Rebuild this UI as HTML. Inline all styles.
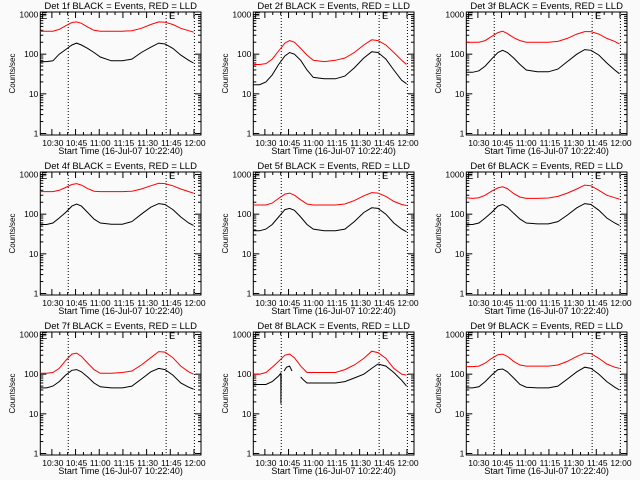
<!DOCTYPE html>
<html><head><meta charset="utf-8">
<style>
html,body{margin:0;padding:0;background:#fafafa;}
svg{display:block;font-family:"Liberation Sans",sans-serif;}
</style></head>
<body>
<svg id="fig" width="640" height="480" viewBox="0 0 640 480" xmlns="http://www.w3.org/2000/svg">
<rect x="0" y="0" width="640" height="480" fill="#fafafa"/>
</svg>
<script>
// minutes after 10:22:40
const sampleTimes = [0,4,8,12,16,20,23,26,30,34,38,45,52,58,64,70,75,79,84,89,94,97];
const tickLabels = ["10:30","10:45","11:00","11:15","11:30","11:45","12:00"];
const tickMinutes = [7.33,22.33,37.33,52.33,67.33,82.33,97.33];
const dottedMinutes = [17.7,79.7,97.6];
const yTickValues = [1,10,100,1000];
const yTickLabels = ["1","10","100","1000"];
const detectorNames = ["1f","2f","3f","4f","5f","6f","7f","8f","9f"];
const red1=[380,380,380,420,520,630,650,600,480,400,380,380,380,390,450,560,650,640,560,450,390,360];
const blk1=[65,65,68,100,130,170,190,170,140,110,85,68,68,75,110,150,190,180,140,95,70,60];
const red2=[55,55,58,75,120,190,220,200,140,95,70,65,70,80,110,170,230,220,170,110,70,55];
const blk2=[17,17,20,30,55,90,110,100,70,40,26,24,24,28,45,80,115,110,75,40,22,18];
const red3=[200,200,200,220,280,350,380,330,260,220,200,200,200,210,250,320,370,370,320,250,210,180];
const blk3=[35,35,38,50,75,110,125,110,80,55,40,36,36,42,65,100,130,125,95,60,40,32];
const red4=[370,370,370,400,470,560,590,540,440,380,370,370,370,380,430,520,600,590,520,430,370,340];
const blk4=[55,55,60,80,110,160,180,160,110,75,60,56,56,65,100,150,185,175,130,85,60,52];
const red5=[170,170,170,190,250,320,340,300,230,180,170,170,170,180,220,290,350,340,280,210,175,165];
const blk5=[38,38,42,55,85,130,140,125,85,55,42,38,38,42,65,110,145,140,100,60,42,36];
const red6=[260,250,260,300,380,460,490,440,330,270,250,250,255,280,340,430,540,520,400,300,260,240];
const blk6=[55,55,60,80,110,160,175,150,105,75,60,57,57,65,95,145,185,175,125,80,60,52];
const red7=[105,105,110,140,220,320,340,280,190,130,105,105,110,120,170,260,370,360,260,160,115,100];
const blk7=[45,45,50,65,95,125,130,115,85,60,48,45,45,50,75,115,140,130,95,60,47,42];
const red8=[100,100,110,150,210,300,320,260,160,110,110,110,110,130,170,250,380,350,250,140,100,95];
const blk8Times=[0,4,8,12,16,17.4,17.5,17.7,null,19.5,21,23,24.5,null,30,32,34,38,45,52,58,64,70,75,79,84,89,94,97];
const blk8=[55,55,55,65,90,105,18,100,null,120,150,160,120,null,85,70,60,60,60,60,65,80,100,140,180,160,110,70,50];
const red9=[155,155,160,190,250,310,320,280,210,170,160,160,160,170,210,280,340,330,250,180,150,140];
const blk9=[45,45,48,65,95,130,135,115,80,55,47,45,45,50,75,115,150,140,100,65,47,40];

const reds=[red1,red2,red3,red4,red5,red6,red7,red8,red9];
const blks=[blk1,blk2,blk3,blk4,blk5,blk6,blk7,blk8,blk9];

const NS="http://www.w3.org/2000/svg";
const svg=document.getElementById('fig');
function mk(tag,attrs,parent){const e=document.createElementNS(NS,tag);for(const k in attrs)e.setAttribute(k,attrs[k]);parent.appendChild(e);return e;}

const BX0=40.3,BX1=201,BY0=12,BY1=135;
const xPerMin=(194-51.9)/90;
function xs(m){return BX0+m*xPerMin;}
function ys(v){return 133.5-(Math.log10(v))*(119/3);}

function linePath(times,vals){
  let d="",pen=false;
  for(let i=0;i<vals.length;i++){
    const t=times[i],v=vals[i];
    if(t===null||v===null){pen=false;continue;}
    d+=(pen?"L":"M")+xs(t).toFixed(1)+" "+ys(v).toFixed(1)+" ";
    pen=true;
  }
  return d;
}

for(let p=0;p<9;p++){
  const col=p%3,row=Math.floor(p/3);
  const g=mk('g',{transform:`translate(${col*213},${row*160})`},svg);
  
  
  const title=mk('text',{x:(BX0+BX1)/2,y:9,'font-size':'9.5','text-anchor':'middle',fill:'#000'},g);
  title.textContent=`Det ${detectorNames[p]} BLACK = Events, RED = LLD`;
  
  
  const box=mk('rect',{x:BX0,y:BY0,width:BX1-BX0,height:BY1-BY0,fill:'none',stroke:'#000','stroke-width':1},g);
  
  
  for(let i=0;i<yTickValues.length;i++){
    const y=ys(yTickValues[i]);
    mk('line',{x1:BX0,x2:BX0+6,y1:y,y2:y,stroke:'#000'},g);
    mk('line',{x1:BX1-6,x2:BX1,y1:y,y2:y,stroke:'#000'},g);
    const t=mk('text',{x:BX0-2,y:y+3,'font-size':'8.5','text-anchor':'end'},g);
    t.textContent=yTickLabels[i];
    
    
    if(i<yTickValues.length-1){
      for(let k=2;k<10;k++){
        const ym=ys(yTickValues[i]*k);
        mk('line',{x1:BX0,x2:BX0+3,y1:ym,y2:ym,stroke:'#000'},g);
        mk('line',{x1:BX1-3,x2:BX1,y1:ym,y2:ym,stroke:'#000'},g);
      }
    }
  }
  for(let i=0;i<tickMinutes.length;i++){
    const x=xs(tickMinutes[i]);
    mk('line',{x1:x,x2:x,y1:BY1,y2:BY1-6,stroke:'#000'},g);
    mk('line',{x1:x,x2:x,y1:BY0,y2:BY0+6,stroke:'#000'},g);
    for(let k=1;k<3;k++){
      const xm=xs(tickMinutes[i]+k*5);
      if(xm<BX1){mk('line',{x1:xm,x2:xm,y1:BY1,y2:BY1-3,stroke:'#000'},g);mk('line',{x1:xm,x2:xm,y1:BY0,y2:BY0+3,stroke:'#000'},g);}
    }
    const t=mk('text',{x:x+1,y:146,'font-size':'8.5','text-anchor':'middle'},g);
    t.textContent=tickLabels[i];
    
    
  }
  const xt=mk('text',{x:(BX0+BX1)/2,y:154,'font-size':'9','text-anchor':'middle'},g);
  xt.textContent='Start Time (16-Jul-07 10:22:40)';
  
  
  const yt=mk('text',{x:0,y:0,'font-size':'8','text-anchor':'middle',transform:`translate(15,${(BY0+BY1)/2}) rotate(-90)`},g);
  yt.textContent='Counts/sec';
  
  
  for(let i=0;i<dottedMinutes.length;i++){
    const x=xs(dottedMinutes[i]);
    const dl=mk('line',{x1:x,x2:x,y1:BY0,y2:BY1,stroke:'#000','stroke-dasharray':'1,2'},g);
    
    
  }
  const e1=mk('text',{x:BX0+1,y:BY0+7,'font-size':'9'},g);e1.textContent='E';
  
  
  const e2=mk('text',{x:xs(dottedMinutes[1])+3,y:BY0+7,'font-size':'9'},g);e2.textContent='E';
  
  
  const rp=mk('path',{d:linePath(sampleTimes,reds[p]),fill:'none',stroke:'#ff0000','stroke-width':1},g);
  
  
  const bt=(p===7)?blk8Times:sampleTimes;
  const bp=mk('path',{d:linePath(bt,blks[p]),fill:'none',stroke:'#000','stroke-width':1},g);
  
  
}
</script>
</body></html>
